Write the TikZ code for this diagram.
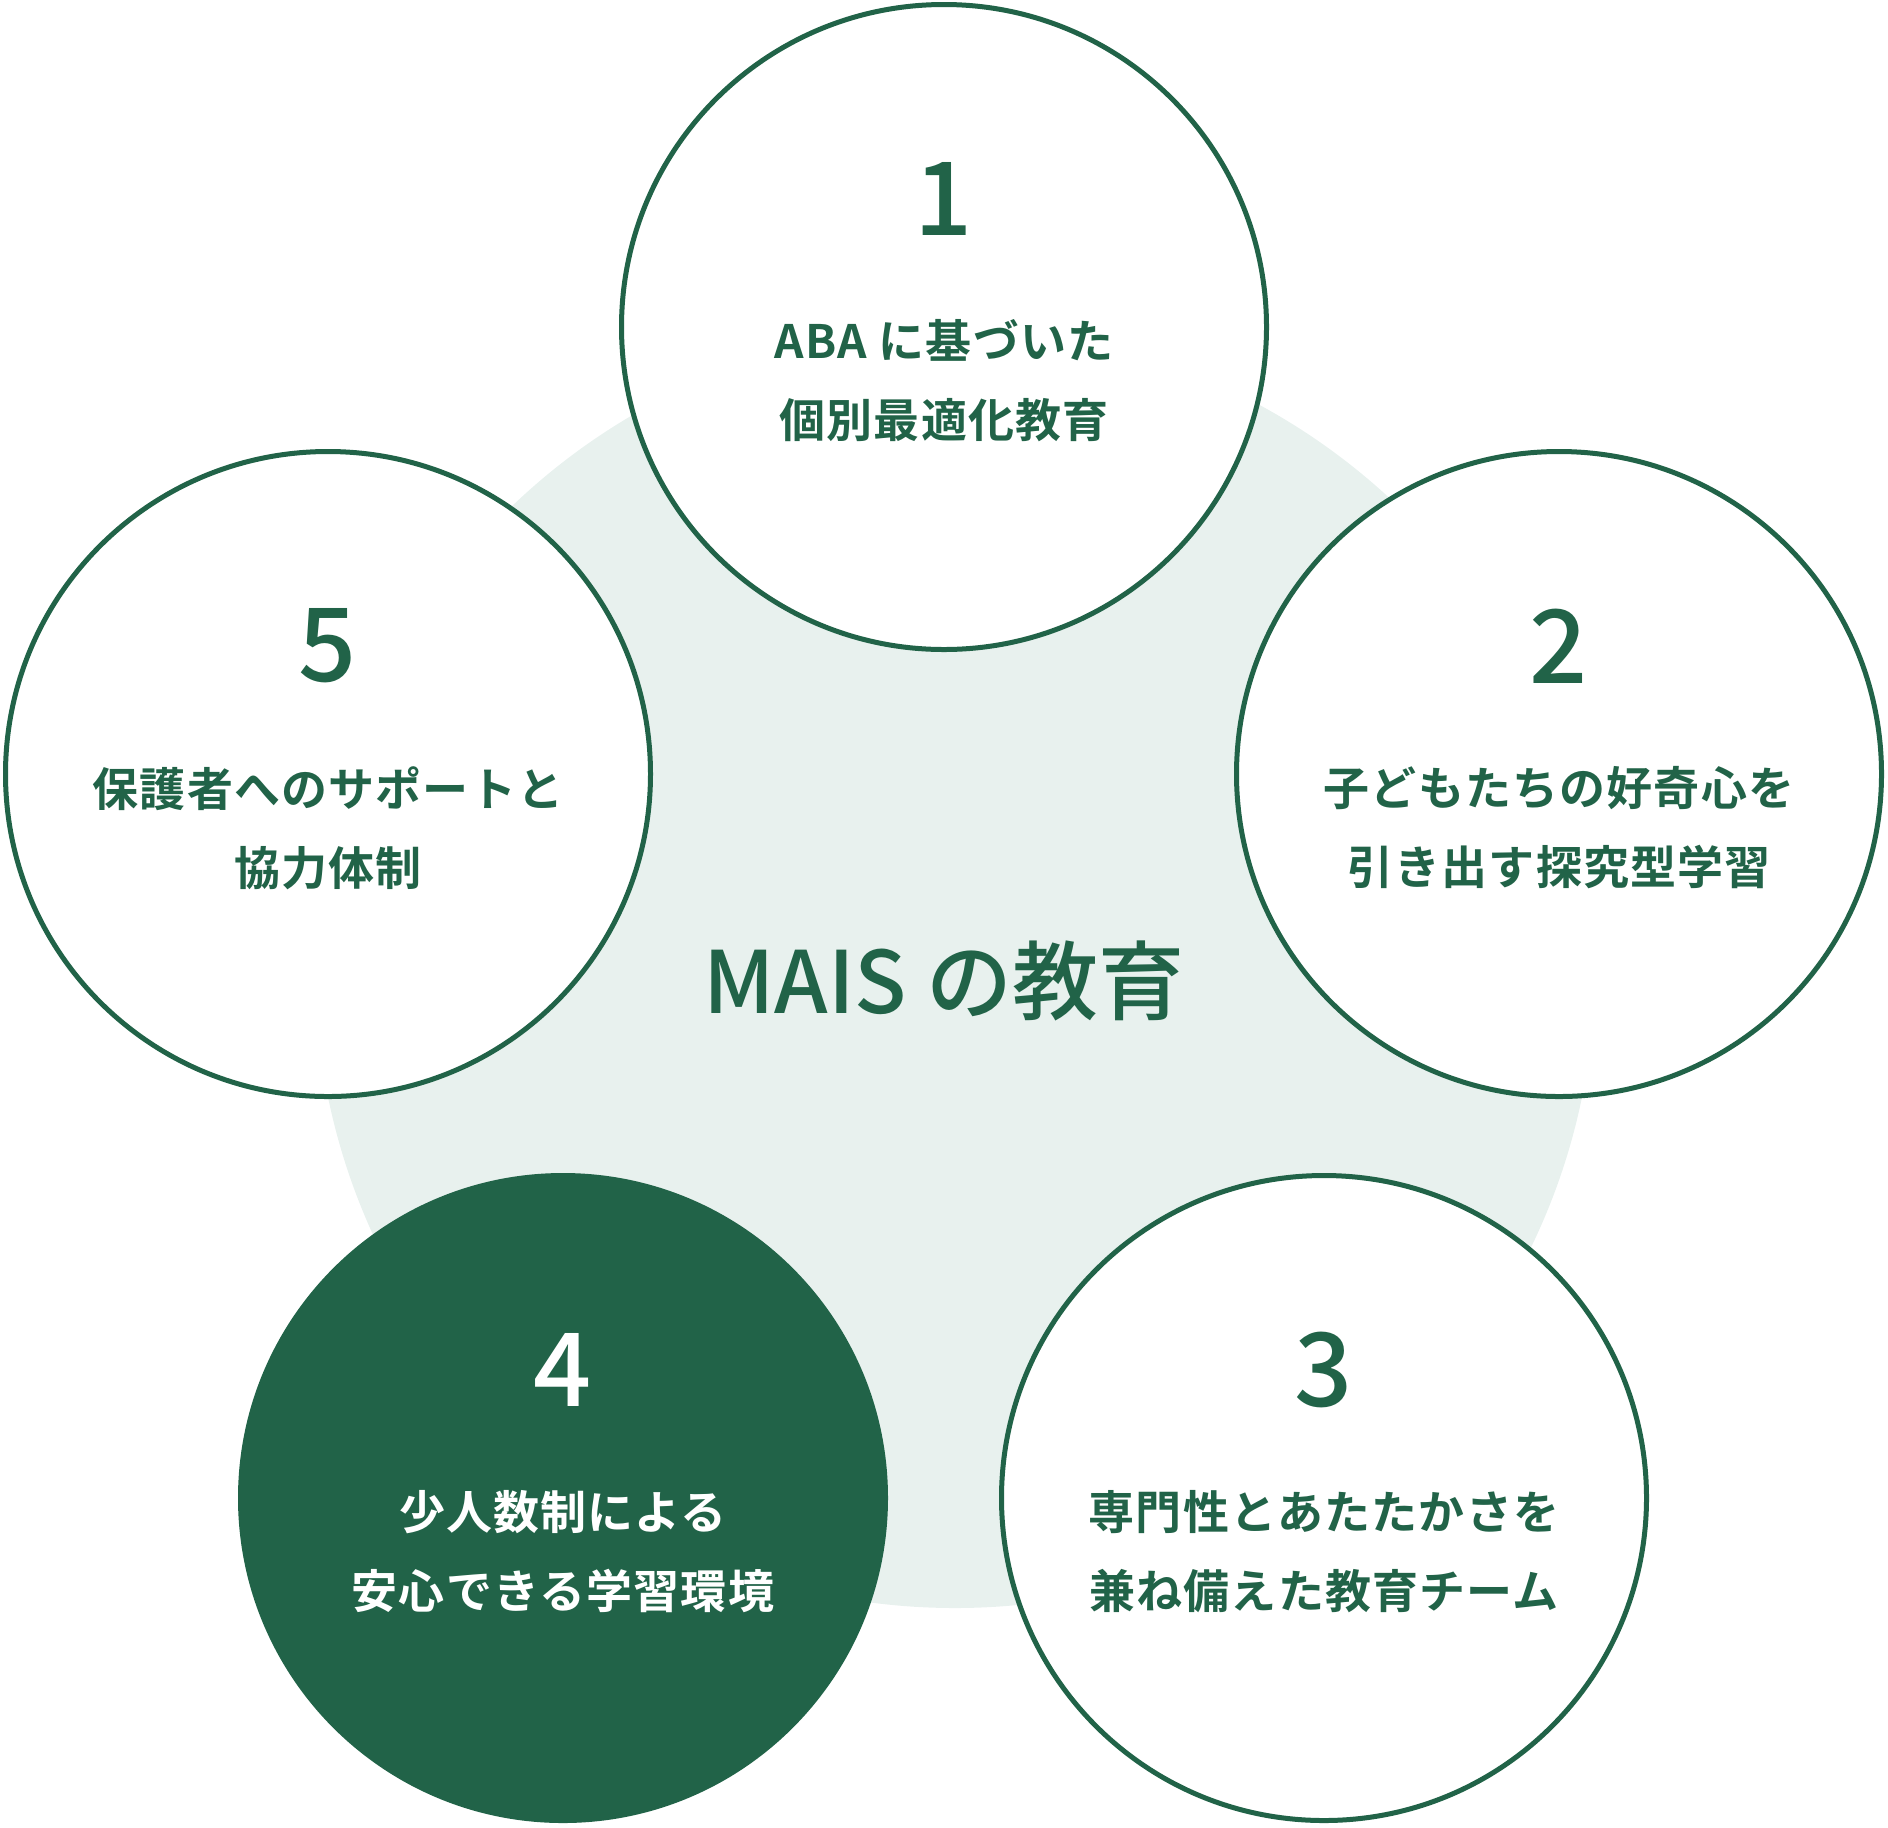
\documentclass[tikz,border=0pt]{standalone}
\usepackage{fontspec}
\setmainfont{Noto Sans CJK JP}[BoldFont={Noto Sans CJK JP Medium}]
\newfontfamily\jptext{Noto Sans CJK JP}[LetterSpace=2.5,BoldFont={Noto Sans CJK JP Bold}]
\definecolor{maisgreen}{RGB}{33,99,72}
\definecolor{maismint}{RGB}{232,241,238}
\begin{document}
\begin{tikzpicture}[x=0.5pt,y=-0.5pt,line join=round,
		ring/.style={circle,draw=maisgreen,line width=2.5pt,fill=white,minimum size=322.5pt,inner sep=0pt},
		num/.style={text=maisgreen,font=\bfseries\fontsize{51}{51}\selectfont},
		txt/.style={text=maisgreen,align=center,font=\jptext\bfseries\fontsize{23}{39.5}\selectfont},
		title/.style={text=maisgreen,font=\bfseries\fontsize{43}{43}\selectfont}]
	\useasboundingbox (0,0) rectangle (1888,1827);
	\node[circle,fill=maismint,minimum size=640pt,inner sep=0pt] (bg) at (955,968) {};
	\node[ring] (c1) at (944,327) {};
	\node[ring] (c2) at (1559,774) {};
	\node[ring] (c3) at (1324,1498) {};
	\node[ring,fill=maisgreen] (c4) at (563,1498) {};
	\node[ring] (c5) at (328,774) {};
	\node[title] (ttl) at (944,981) {MAIS の教育};
	\node[num] (n1) at ([yshift=64pt]c1.center) {1};
	\node[txt] (t1) at ([yshift=-27pt]c1.center) {ABA に基づいた\\個別最適化教育};
	\node[num] (n2) at ([yshift=64pt]c2.center) {2};
	\node[txt] (t2) at ([yshift=-27pt]c2.center) {子どもたちの好奇心を\\引き出す探究型学習};
	\node[num] (n3) at ([yshift=64pt]c3.center) {3};
	\node[txt] (t3) at ([yshift=-27pt]c3.center) {専門性とあたたかさを\\兼ね備えた教育チーム};
	\node[num,text=white] (n4) at ([yshift=64pt]c4.center) {4};
	\node[txt,text=white] (t4) at ([yshift=-27pt]c4.center) {少人数制による\\安心できる学習環境};
	\node[num] (n5) at ([yshift=64pt]c5.center) {5};
	\node[txt] (t5) at ([yshift=-27pt]c5.center) {保護者へのサポートと\\協力体制};
\end{tikzpicture}
\end{document}
